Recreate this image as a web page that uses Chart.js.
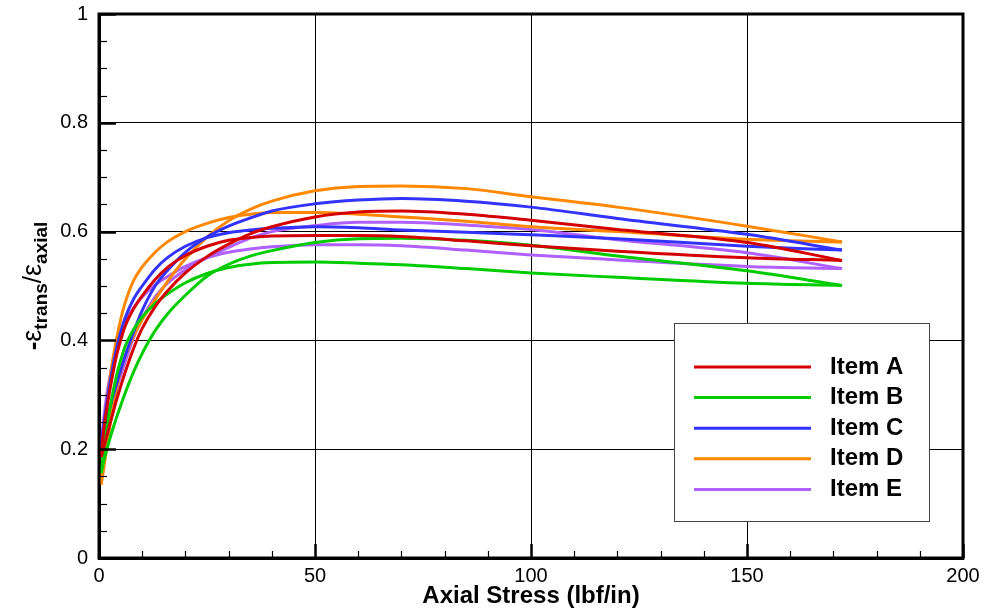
<!DOCTYPE html>
<html>
<head>
<meta charset="utf-8">
<script src="https://cdn.jsdelivr.net/npm/chart.js@4"></script>
<style>
  body { margin: 0; background: #fff; }
  canvas { display: block; }
</style>
</head>
<body>
<canvas id="myRatioChart" width="982" height="612"></canvas>
<script>
// values, two branches per item (fast rise / slow rise)
var xs = [0.5, 1, 2, 3, 4, 5, 6, 8, 10, 13, 16, 20, 25, 30, 35, 40, 50, 60, 70, 85, 100, 120, 150, 172];

var itemA1 = [0.186, 0.23, 0.285, 0.33, 0.37, 0.40, 0.425, 0.458, 0.482, 0.512, 0.535, 0.556, 0.573, 0.584, 0.589, 0.592, 0.593, 0.593, 0.591, 0.583, 0.574, 0.564, 0.552, 0.547];
var itemA2 = [0.186, 0.20, 0.23, 0.26, 0.289, 0.315, 0.34, 0.385, 0.422, 0.462, 0.492, 0.524, 0.554, 0.577, 0.596, 0.609, 0.627, 0.636, 0.638, 0.632, 0.621, 0.604, 0.580, 0.547];

var itemB1 = [0.156, 0.19, 0.25, 0.295, 0.333, 0.363, 0.388, 0.42, 0.443, 0.468, 0.486, 0.506, 0.523, 0.534, 0.540, 0.543, 0.544, 0.542, 0.539, 0.532, 0.524, 0.516, 0.505, 0.501];
var itemB2 = [0.156, 0.175, 0.205, 0.232, 0.257, 0.28, 0.302, 0.342, 0.376, 0.418, 0.450, 0.483, 0.518, 0.540, 0.555, 0.565, 0.580, 0.587, 0.588, 0.584, 0.575, 0.555, 0.528, 0.501];

var itemC1 = [0.21, 0.24, 0.295, 0.343, 0.383, 0.415, 0.44, 0.476, 0.500, 0.531, 0.553, 0.573, 0.589, 0.598, 0.603, 0.606, 0.609, 0.607, 0.603, 0.599, 0.594, 0.587, 0.573, 0.566];
var itemC2 = [0.21, 0.228, 0.26, 0.29, 0.318, 0.345, 0.37, 0.415, 0.455, 0.500, 0.530, 0.562, 0.590, 0.610, 0.625, 0.638, 0.651, 0.658, 0.661, 0.656, 0.645, 0.624, 0.595, 0.566];

var itemD1 = [0.135, 0.20, 0.295, 0.355, 0.40, 0.438, 0.468, 0.51, 0.535, 0.562, 0.582, 0.600, 0.615, 0.626, 0.632, 0.635, 0.635, 0.632, 0.627, 0.619, 0.609, 0.600, 0.586, 0.581];
var itemD2 = [0.135, 0.16, 0.215, 0.268, 0.31, 0.343, 0.37, 0.408, 0.438, 0.475, 0.510, 0.550, 0.590, 0.620, 0.641, 0.656, 0.675, 0.683, 0.684, 0.679, 0.664, 0.645, 0.610, 0.581];

var itemE1 = [0.205, 0.25, 0.31, 0.352, 0.385, 0.41, 0.432, 0.46, 0.48, 0.502, 0.518, 0.536, 0.552, 0.562, 0.568, 0.572, 0.576, 0.576, 0.574, 0.566, 0.557, 0.548, 0.536, 0.532];
var itemE2 = [0.205, 0.22, 0.25, 0.28, 0.308, 0.335, 0.36, 0.405, 0.44, 0.480, 0.506, 0.530, 0.552, 0.571, 0.588, 0.600, 0.611, 0.617, 0.617, 0.612, 0.604, 0.585, 0.561, 0.532];

var itemLabels = ["Item A", "Item B", "Item C", "Item D", "Item E"];
var itemColors = ["#d40000", "#00cc00", "#3333ff", "#ff8800", "#b060ff"];
var branches = [[itemA1, itemA2], [itemB1, itemB2], [itemC1, itemC2], [itemD1, itemD2], [itemE1, itemE2]];

var xTicks = [0, 50, 100, 150, 200];
var yTicks = [0, 0.2, 0.4, 0.6, 0.8, 1];

var datasets = [];
for (var k = 0; k < branches.length; k++) {
    for (var b = 0; b < 2; b++) {
        var arr = branches[k][b];
        datasets.push({
            label: itemLabels[k],
            data: xs.map(function (x, i) { return { x: x, y: arr[i] }; }),
            borderColor: itemColors[k],
            borderWidth: 3,
            pointRadius: 0,
            fill: false,
            cubicInterpolationMode: 'monotone'
        });
    }
}

function noPad(scale) {
    scale.paddingLeft = 0; scale.paddingRight = 0;
    scale.paddingTop = 0; scale.paddingBottom = 0;
}

// inward ticks, frame, y title with subscripts, boxed legend
var decorations = {
    id: 'decorations',
    afterDraw: function (chart) {
        var ctx = chart.ctx, area = chart.chartArea;
        var sx = chart.scales.x, sy = chart.scales.y;
        ctx.save();
        ctx.strokeStyle = '#000';
        for (var v = 0; v <= 200; v += 10) {
            var px = Math.round(sx.getPixelForValue(v)) + 0.5;
            var major = v % 50 === 0;
            ctx.lineWidth = major ? 2.5 : 1.2;
            ctx.beginPath();
            ctx.moveTo(px, area.bottom);
            ctx.lineTo(px, area.bottom - (major ? 14 : 7));
            ctx.stroke();
        }
        for (var i = 0; i <= 20; i++) {
            var val = i * 0.05;
            var py = Math.round(sy.getPixelForValue(val)) + 0.5;
            var maj = i % 4 === 0;
            ctx.lineWidth = maj ? 2.5 : 1.2;
            ctx.beginPath();
            ctx.moveTo(area.left, py);
            ctx.lineTo(area.left + (maj ? 17 : 8), py);
            ctx.stroke();
        }
        ctx.lineWidth = 3;
        ctx.strokeRect(area.left, area.top, area.right - area.left, area.bottom - area.top);

        // y axis title
        var pieces = [
            { t: '-', f: 'bold 26px Arial', dy: 0 },
            { t: 'ε', f: '27px Arial', dy: 0 },
            { t: 'trans', f: 'bold 19px Arial', dy: 6 },
            { t: '/', f: '26px Arial', dy: 0 },
            { t: 'ε', f: '27px Arial', dy: 0 },
            { t: 'axial', f: 'bold 19px Arial', dy: 6 }
        ];
        var total = 0;
        pieces.forEach(function (p) { ctx.font = p.f; p.w = ctx.measureText(p.t).width; total += p.w; });
        ctx.translate(41, 286);
        ctx.rotate(-Math.PI / 2);
        ctx.fillStyle = '#000';
        ctx.textBaseline = 'alphabetic';
        var cx = -total / 2;
        pieces.forEach(function (p) { ctx.font = p.f; ctx.fillText(p.t, cx, p.dy); cx += p.w; });
        ctx.restore();

        // legend box
        ctx.save();
        ctx.fillStyle = '#fff';
        ctx.fillRect(674, 323, 255, 198);
        ctx.strokeStyle = '#444';
        ctx.lineWidth = 1;
        ctx.strokeRect(674.5, 323.5, 255, 198);
        ctx.font = 'bold 24px Arial';
        ctx.textBaseline = 'middle';
        for (var n = 0; n < itemLabels.length; n++) {
            var ly = 367 + n * 30.6;
            ctx.strokeStyle = itemColors[n];
            ctx.lineWidth = 3;
            ctx.beginPath();
            ctx.moveTo(694, ly);
            ctx.lineTo(811, ly);
            ctx.stroke();
            ctx.fillStyle = '#000';
            ctx.fillText(itemLabels[n], 830, ly);
        }
        ctx.restore();
    }
};

var canvasRatio = document.getElementById("myRatioChart");
var myRatioChart = new Chart(canvasRatio, {
  type: 'line',
  data: { datasets: datasets },
  options: {
    responsive: false,
    animation: false,
    devicePixelRatio: 1,
    layout: { padding: { top: 14, right: 19, left: 0, bottom: 0 } },
    plugins: { legend: { display: false }, tooltip: { enabled: false } },
    scales: {
      x: {
        type: 'linear',
        min: 0, max: 200,
        afterBuildTicks: function (scale) { scale.ticks = xTicks.map(function (v) { return { value: v }; }); },
        afterFit: function (scale) { scale.height = 54; noPad(scale); },
        ticks: { color: '#000', font: { family: 'Arial', size: 20 }, padding: 6, maxRotation: 0 },
        grid: { color: '#000', lineWidth: 1, drawTicks: false },
        border: { display: true, color: '#000', width: 3 },
        title: { display: true, text: 'Axial Stress (lbf/in)', color: '#000',
                 font: { family: 'Arial', size: 24, weight: 'bold' }, padding: { top: 0, bottom: 1 } }
      },
      y: {
        min: 0, max: 1,
        afterBuildTicks: function (scale) { scale.ticks = yTicks.map(function (v) { return { value: v }; }); },
        afterFit: function (scale) { scale.width = 99; noPad(scale); },
        ticks: { color: '#000', font: { family: 'Arial', size: 20 }, padding: 11,
                 callback: function (v) { return String(Math.round(v * 10) / 10); } },
        grid: { color: '#000', lineWidth: 1, drawTicks: false },
        border: { display: true, color: '#000', width: 3 }
      }
    }
  },
  plugins: [decorations]
});
</script>
</body>
</html>
